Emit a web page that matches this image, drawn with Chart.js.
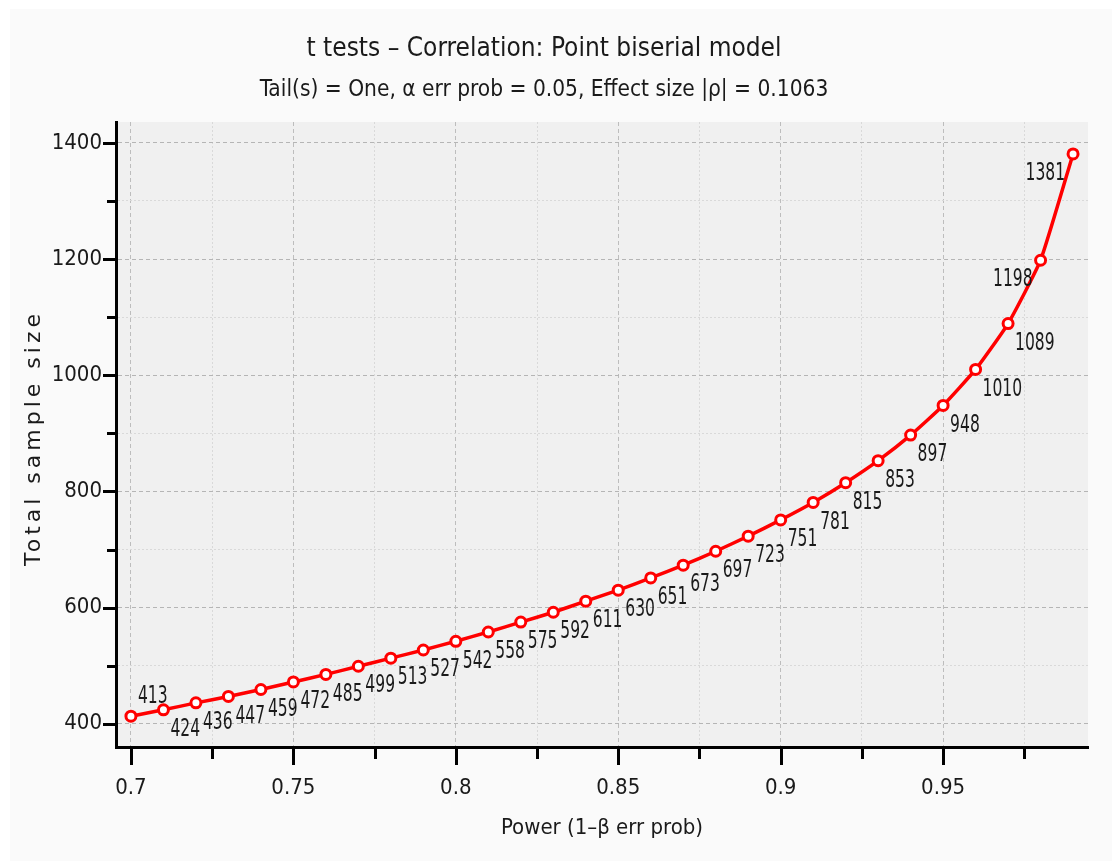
<!DOCTYPE html>
<html>
<head>
<meta charset="utf-8">
<script src="https://cdn.jsdelivr.net/npm/chart.js@4/dist/chart.umd.min.js"></script>
<style>
  html, body { margin: 0; padding: 0; background: #fff; }
  #wrap { width: 1112px; height: 861px; position: relative; }
</style>
</head>
<body>
<div id="wrap"><canvas id="grafico"></canvas></div>
<script>
// datos
const power = [0.70, 0.71, 0.72, 0.73, 0.74, 0.75, 0.76, 0.77, 0.78, 0.79,
               0.80, 0.81, 0.82, 0.83, 0.84, 0.85, 0.86, 0.87, 0.88, 0.89,
               0.90, 0.91, 0.92, 0.93, 0.94, 0.95, 0.96, 0.97, 0.98, 0.99];
const sampleSize = [413, 424, 436, 447, 459, 472, 485, 499, 513, 527,
                    542, 558, 575, 592, 611, 630, 651, 673, 697, 723,
                    751, 781, 815, 853, 897, 948, 1010, 1089, 1198, 1381];
const xTicks = [0.7, 0.725, 0.75, 0.775, 0.8, 0.825, 0.85, 0.875, 0.9, 0.925, 0.95, 0.975];
const yTicks = [400, 500, 600, 700, 800, 900, 1000, 1100, 1200, 1300, 1400];

const titulo = "t tests \u2013 Correlation: Point biserial model";
const subtitulo = "Tail(s) = One, \u03b1 err prob = 0.05, Effect size |\u03c1| = 0.1063";
const tituloX = "Power (1\u2013\u03b2 err prob)";
const tituloY = "Total sample size";

const FUENTE = "'Liberation Sans Narrow', 'DejaVu Sans Condensed', 'Arial Narrow', sans-serif";

function esMayorX(v) { return Math.abs(v * 20 - Math.round(v * 20)) < 1e-6; }
function esMayorY(v) { return v % 200 === 0; }

// fondo, marcas de ejes, etiquetas y titulo vertical
const decoracion = {
  id: "decoracion",
  beforeDraw(chart) {
    const { ctx, chartArea: a } = chart;
    ctx.save();
    ctx.fillStyle = "#ffffff";
    ctx.fillRect(0, 0, chart.width, chart.height);
    ctx.fillStyle = "#fafafa";
    ctx.fillRect(10, 9, chart.width - 10, chart.height - 9);
    ctx.fillStyle = "#f0f0f0";
    ctx.fillRect(a.left, a.top, a.right - a.left, a.bottom - a.top);
    ctx.restore();
  },
  afterDatasetsDraw(chart) {
    const { ctx } = chart;
    const meta = chart.getDatasetMeta(0);
    const n = meta.data.length;
    ctx.save();
    ctx.font = "24px " + FUENTE;
    ctx.fillStyle = "#1a1a1a";
    ctx.textBaseline = "middle";
    meta.data.forEach((p, i) => {
      const txt = String(sampleSize[i]);
      let x = p.x + 7, y = p.y + 20;
      ctx.textAlign = "left";
      if (i === 0) {
        y = p.y - 19;
      } else if (i >= n - 2) {
        ctx.textAlign = "right";
        x = p.x - 8;
      }
      ctx.save();
      ctx.translate(x, y);
      ctx.scale(0.72, 1);
      ctx.fillText(txt, 0, 0);
      ctx.restore();
    });
    ctx.restore();
  },
  afterDraw(chart) {
    const { ctx, chartArea: a, scales } = chart;
    ctx.save();
    ctx.strokeStyle = "#000";
    ctx.lineWidth = 3;
    scales.x.ticks.forEach(t => {
      const px = Math.round(scales.x.getPixelForValue(t.value)) + 0.5;
      ctx.beginPath();
      ctx.moveTo(px, a.bottom);
      ctx.lineTo(px, a.bottom + (esMayorX(t.value) ? 18 : 12));
      ctx.stroke();
    });
    scales.y.ticks.forEach(t => {
      const py = Math.round(scales.y.getPixelForValue(t.value)) + 0.5;
      ctx.beginPath();
      ctx.moveTo(a.left, py);
      ctx.lineTo(a.left - (esMayorY(t.value) ? 13 : 9), py);
      ctx.stroke();
    });
    // titulo del eje Y
    ctx.translate(34, 438);
    ctx.rotate(-Math.PI / 2);
    ctx.font = "22px 'DejaVu Sans', sans-serif";
    ctx.letterSpacing = "4px";
    ctx.fillStyle = "#1a1a1a";
    ctx.textAlign = "center";
    ctx.textBaseline = "middle";
    ctx.fillText(tituloY, 0, 0);
    ctx.restore();
  }
};

const ctx = document.getElementById("grafico").getContext("2d");
new Chart(ctx, {
  type: "line",
  data: {
    datasets: [{
      data: power.map((x, i) => ({ x: x, y: sampleSize[i] })),
      borderColor: "#ff0000",
      borderWidth: 3.5,
      pointRadius: 5,
      pointBorderWidth: 3,
      pointBackgroundColor: "#ffffff",
      pointBorderColor: "#ff0000",
      tension: 0.15,
      clip: false
    }]
  },
  options: {
    responsive: true,
    maintainAspectRatio: false,
    animation: false,
    events: [],
    layout: { padding: { left: 0, right: 24, top: 0, bottom: 0 } },
    plugins: {
      legend: { display: false },
      tooltip: { enabled: false },
      title: {
        display: true,
        text: titulo,
        color: "#1a1a1a",
        font: { family: FUENTE, size: 26, weight: "normal", lineHeight: 1.2 },
        padding: { top: 33.4, bottom: 8.4 }
      },
      subtitle: {
        display: true,
        text: subtitulo,
        color: "#1a1a1a",
        font: { family: FUENTE, size: 22.5, weight: "normal", lineHeight: 1.2 },
        padding: { top: 3.5, bottom: 18.5 }
      }
    },
    scales: {
      x: {
        type: "linear",
        min: 0.6954,
        max: 0.9946,
        afterBuildTicks: s => { s.ticks = xTicks.map(v => ({ value: v })); },
        afterFit: s => { s.height = 114; },
        ticks: {
          autoSkip: false,
          maxRotation: 0,
          padding: 28,
          color: "#1a1a1a",
          font: { family: FUENTE, size: 22 },
          callback: v => esMayorX(v) ? String(+v.toFixed(3)) : ""
        },
        grid: {
          drawTicks: false,
          lineWidth: 1,
          color: c => c.tick && esMayorX(c.tick.value) ? "#bdbdbd" : "#d9d9d9"
        },
        border: {
          color: "#000",
          width: 3,
          dash: c => c.tick ? (esMayorX(c.tick.value) ? [4, 3] : [2, 2]) : []
        },
        title: {
          display: true,
          text: tituloX,
          color: "#1a1a1a",
          font: { family: FUENTE, size: 22, lineHeight: 1.2 },
          padding: { top: 0, bottom: 20 }
        }
      },
      y: {
        min: 360,
        max: 1436,
        afterBuildTicks: s => { s.ticks = yTicks.map(v => ({ value: v })); },
        afterFit: s => { s.width = 116; },
        ticks: {
          autoSkip: false,
          padding: 14,
          color: "#1a1a1a",
          font: { family: FUENTE, size: 22 },
          callback: v => esMayorY(v) ? String(v) : ""
        },
        grid: {
          drawTicks: false,
          lineWidth: 1,
          color: c => c.tick && esMayorY(c.tick.value) ? "#b5b5b5" : "#d9d9d9"
        },
        border: {
          color: "#000",
          width: 3,
          dash: c => c.tick ? (esMayorY(c.tick.value) ? [4, 3] : [2, 2]) : []
        }
      }
    }
  },
  plugins: [decoracion]
});
</script>
</body>
</html>
